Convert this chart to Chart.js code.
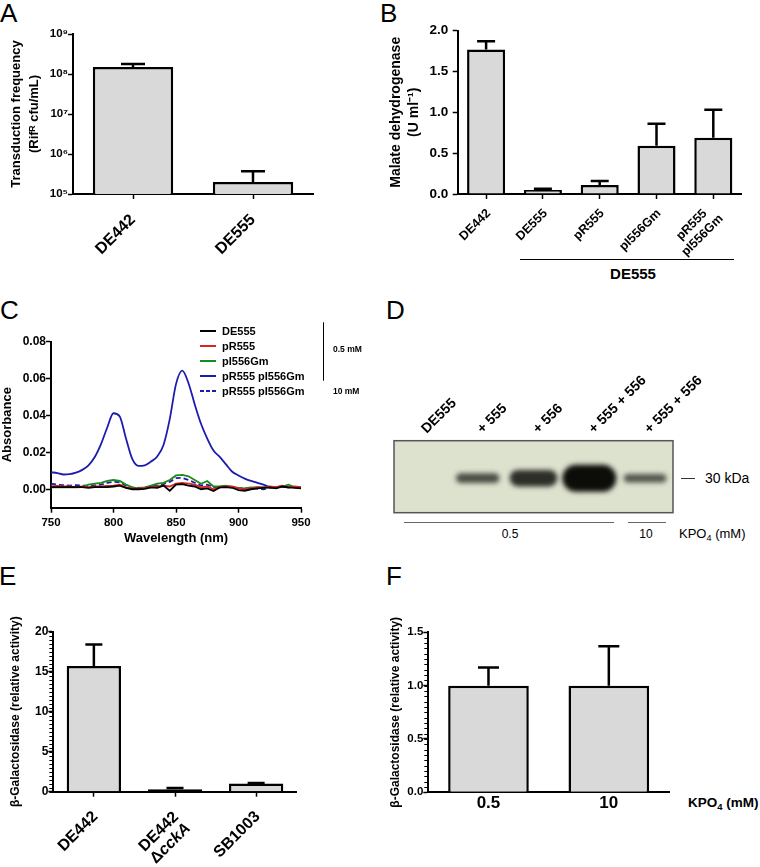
<!DOCTYPE html>
<html>
<head>
<meta charset="utf-8">
<script src="https://cdn.jsdelivr.net/npm/chart.js@4.4.1/dist/chart.umd.min.js"></script>
<style>
  body { margin: 0; background: #fff; }
  #page { position: relative; width: 760px; height: 867px; overflow: hidden; font-family: "Liberation Sans", Arial, sans-serif; color: #000; }
  canvas { position: absolute; }
  .t { position: absolute; white-space: nowrap; line-height: 1; }
  .letter { font-size: 26px; }
  .hl { position: absolute; height: 0; border-top: 1px solid #000; }
  .sub { font-size: 70%; position: relative; top: 0.3em; }
</style>
</head>
<body>
<div id="page">
  <div class="t letter" style="left:0;top:-0.5px">A</div>
  <div class="t letter" style="left:380px;top:-0.5px">B</div>
  <div class="t letter" style="left:0;top:296.5px">C</div>
  <div class="t letter" style="left:386px;top:296.5px">D</div>
  <div class="t letter" style="left:-1px;top:563px">E</div>
  <div class="t letter" style="left:386px;top:563px">F</div>

  <!-- B: strain bracket -->
  <div class="hl" style="left:520px;top:259px;width:214px"></div>
  <div class="t" style="left:633px;top:265.5px;font-size:15px;font-weight:bold;transform:translateX(-50%)">DE555</div>

  <!-- D: blot annotations -->
  <div class="hl" style="left:681px;top:478px;width:14px;border-color:#333"></div>
  <div class="t" style="left:705px;top:471px;font-size:14px">30 kDa</div>
  <div class="hl" style="left:404px;top:522px;width:210px;border-color:#666"></div>
  <div class="hl" style="left:628px;top:522px;width:38px;border-color:#666"></div>
  <div class="t" style="left:510px;top:528px;font-size:12px;transform:translateX(-50%)">0.5</div>
  <div class="t" style="left:646px;top:528px;font-size:12px;transform:translateX(-50%)">10</div>
  <div class="t" style="left:679px;top:527px;font-size:13px">KPO<span class="sub">4</span> (mM)</div>

  <!-- F: x axis unit -->
  <div class="t" style="left:688px;top:796px;font-size:13.5px;font-weight:bold">KPO<span class="sub">4</span> (mM)</div>
</div>

<script>
// ---- A: transduction frequency ----
const aStrains = ['DE442', 'DE555'];
const aFreq = [1.5e8, 2.0e5];
const aFreqErr = [0.28e8, 1.7e5];
const aTicks = [1e5, 1e6, 1e7, 1e8, 1e9];

// ---- B: malate dehydrogenase ----
const bStrains = ['DE442', 'DE555', 'pR555', 'pI556Gm', ['pR555', 'pI556Gm']];
const bMdh = [1.77, 0.05, 0.11, 0.59, 0.69];
const bMdhErr = [0.10, 0.015, 0.05, 0.27, 0.34];

// ---- C: absorption spectra ----
const cWavelength = [750, 755, 760, 765, 770, 775, 780, 785, 790, 795, 800, 805, 810, 815, 820, 825, 830, 835, 840, 845,
  850, 855, 860, 865, 870, 875, 880, 885, 890, 895, 900, 905, 910, 915, 920, 925, 930, 935, 940, 945, 950];
const cDE555 = [.0012, .0012, .0012, .0012, .0012, .0012, .0008, .0012, .0012, .0012, .0015, .0020, .0008, .0000, .0000, .0002, .0010, .0008, .0020, -.0008,
  .0025, .0028, .0020, .0015, .0000, .0005, -.0010, .0010, .0012, .0008, -.0005, -.0008, .0000, .0005, .0008, .0010, .0005, .0015, .0010, .0008, .0005];
const cPR555 = [.0015, .0018, .0015, .0015, .0012, .0015, .0012, .0015, .0015, .0018, .0020, .0025, .0010, .0005, .0003, .0008, .0012, .0015, .0020, .0015,
  .0030, .0035, .0030, .0025, .0010, .0015, .0000, .0010, .0015, .0015, .0005, .0000, .0005, .0012, .0008, .0015, .0012, .0020, .0012, .0015, .0012];
const cPI556Gm = [.0010, .0010, .0010, .0012, .0010, .0012, .0025, .0030, .0035, .0045, .0050, .0045, .0025, .0010, .0005, .0010, .0020, .0030, .0035, .0050,
  .0075, .0078, .0070, .0050, .0030, .0045, .0015, .0015, .0020, .0012, .0008, .0005, .0010, .0010, .0012, .0010, .0012, .0015, .0025, .0010, .0008];
const cBoth05 = [.0092, .0088, .0080, .0082, .0090, .0105, .0130, .0175, .0245, .0335, .0412, .0395, .0275, .0165, .0127, .0130, .0150, .0178, .0240, .0380,
  .0570, .0643, .0575, .0460, .0355, .0275, .0210, .0175, .0135, .0095, .0075, .0058, .0045, .0035, .0025, .0012, .0010, .0012, .0010, .0012, .0010];
const cBoth10 = [.0030, .0025, .0022, .0020, .0022, .0020, .0020, .0022, .0025, .0035, .0040, .0038, .0020, .0010, .0008, .0010, .0015, .0020, .0028, .0040,
  .0060, .0062, .0050, .0035, .0020, .0025, .0010, .0012, .0018, .0012, .0008, .0005, .0005, .0003, .0000, .0008, .0010, .0012, .0010, .0012, .0010];
const cTicks = [0, 0.02, 0.04, 0.06, 0.08];

// ---- D: western blot lanes ----
const dLanes = ['DE555', '+ 555', '+ 556', '+ 555 + 556', '+ 555 + 556'];
const dBandSignal = [0, 0.25, 0.55, 1.0, 0.2];

// ---- E: beta-galactosidase by strain (_x_ = italic) ----
const eStrains = ['DE442', ['DE442', '\u0394_cckA_'], 'SB1003'];
const eGal = [15.7, 0.3, 1.04];
const eGalErr = [2.7, 0.16, 0.06];

// ---- F: beta-galactosidase by KPO4 ----
const fKpo = ['0.5', '10'];
const fGal = [1.0, 1.0];
const fGalErr = [0.17, 0.37];

const SUP = ['\u2070', '\u00b9', '\u00b2', '\u00b3', '\u2074', '\u2075', '\u2076', '\u2077', '\u2078', '\u2079'];
const BAR_FILL = '#d9d9d9';
const FONT = '"Liberation Sans", Arial, Helvetica, sans-serif';

Chart.defaults.font.family = FONT;
Chart.defaults.font.weight = 'bold';
Chart.defaults.color = '#000';
Chart.defaults.animation = false;
Chart.defaults.plugins.legend.display = false;
Chart.defaults.plugins.tooltip.enabled = false;

function makeCanvas(x, y, w, h) {
  const c = document.createElement('canvas');
  c.width = w; c.height = h;
  c.style.left = x + 'px'; c.style.top = y + 'px';
  c.style.width = w + 'px'; c.style.height = h + 'px';
  document.getElementById('page').appendChild(c);
  return c;
}

const border = () => ({ display: true, color: '#000', width: 2 });
const grid = (len) => ({ display: true, drawOnChartArea: false, tickLength: len, tickColor: '#000', tickWidth: 1.5, offset: false });
const noGrid = () => ({ display: false, drawTicks: false });

// upward-only error bars with a cap, GraphPad style
const errorBars = {
  id: 'errorBars',
  afterDatasetsDraw(chart, args, opts) {
    const { ctx } = chart;
    const y = chart.scales.y;
    const meta = chart.getDatasetMeta(0);
    const vals = chart.data.datasets[0].data;
    ctx.save();
    ctx.strokeStyle = '#000';
    ctx.lineWidth = 2.5;
    meta.data.forEach((bar, i) => {
      const top = y.getPixelForValue(vals[i] + opts.errors[i]);
      ctx.beginPath();
      ctx.moveTo(bar.x, bar.y);
      ctx.lineTo(bar.x, top);
      ctx.moveTo(bar.x - opts.cap / 2, top);
      ctx.lineTo(bar.x + opts.cap / 2, top);
      ctx.stroke();
    });
    ctx.restore();
  }
};

// short minor ticks on the y axis
const minorTicks = {
  id: 'minorTicks',
  afterDraw(chart, args, opts) {
    if (!opts.step) return;
    const { ctx } = chart;
    const y = chart.scales.y;
    const x0 = chart.chartArea.left - 1;
    ctx.save();
    ctx.strokeStyle = '#000';
    ctx.lineWidth = 1;
    const n = Math.round((y.max - y.min) / opts.step);
    for (let k = 0; k <= n; k++) {
      const py = Math.round(y.getPixelForValue(y.min + k * opts.step)) + 0.5;
      ctx.beginPath();
      ctx.moveTo(x0, py);
      ctx.lineTo(x0 - opts.len, py);
      ctx.stroke();
    }
    ctx.restore();
  }
};

// text with _italic_ pieces
function pieces(txt) {
  return txt.split('_').map((s, j) => ({ s, it: j % 2 === 1 })).filter(p => p.s);
}
function setFont(ctx, size, weight, it) {
  ctx.font = (it ? 'italic ' : '') + weight + ' ' + size + 'px ' + FONT;
}
function richWidth(ctx, txt, size, weight) {
  return pieces(txt).reduce((w, p) => { setFont(ctx, size, weight, p.it); return w + ctx.measureText(p.s).width; }, 0);
}
function richDraw(ctx, txt, x, y, size, weight) {
  pieces(txt).forEach(p => {
    setFont(ctx, size, weight, p.it);
    ctx.fillText(p.s, x, y);
    x += ctx.measureText(p.s).width;
  });
}

// 45-degree category labels; multi-line labels are centre-aligned blocks
const slantLabels = {
  id: 'slantLabels',
  afterDraw(chart, args, o) {
    const { ctx } = chart;
    const xs = chart.scales.x;
    const up = !!o.up;
    const weight = o.weight || 'bold';
    ctx.save();
    ctx.fillStyle = '#000';
    ctx.textBaseline = 'middle';
    ctx.textAlign = 'left';
    chart.data.labels.forEach((lab, i) => {
      const lines = Array.isArray(lab) ? lab : [lab];
      const widths = lines.map(t => richWidth(ctx, t, o.size, weight));
      const maxW = Math.max(...widths);
      lines.forEach((txt, k) => {
        const perp = (k - (lines.length - 1) * (o.center || 0) / 2) * o.lineHeight;
        const ax = xs.getPixelForTick(i) + o.dx;
        const ay = (up ? chart.chartArea.top : chart.chartArea.bottom) + o.dy;
        ctx.save();
        ctx.translate(ax, ay);
        ctx.rotate(-Math.PI / 4);
        const x0 = up ? 0 : -maxW + (maxW - widths[k]) / 2;
        richDraw(ctx, txt, x0, perp, o.size, weight);
        ctx.restore();
      });
    });
    ctx.restore();
  }
};

// very short bars get a full outline so they read as solid black
function barDataset(values) {
  return {
    data: values, backgroundColor: BAR_FILL, borderColor: '#000', borderWidth: 2.5,
    borderSkipped: c => (c.chart.scales.y.getPixelForValue(0) - c.chart.scales.y.getPixelForValue(c.raw) < 4 ? false : 'start'),
    barPercentage: 0.67, categoryPercentage: 1
  };
}
const hiddenTicks = { display: false, autoSkip: false };

// A
new Chart(makeCanvas(0, 22, 380, 268), {
  type: 'bar',
  data: { labels: aStrains, datasets: [barDataset(aFreq)] },
  options: {
    responsive: false,
    layout: { padding: { top: 12, right: 67, left: 0, bottom: 0 } },
    plugins: {
      errorBars: { errors: aFreqErr, cap: 24 },
      slantLabels: { size: 16, dx: 0, dy: 23.3, lineHeight: 17 }
    },
    scales: {
      x: { grid: grid(5), border: border(), ticks: hiddenTicks, afterFit: s => { s.height = 96; } },
      y: {
        type: 'logarithmic', min: 1e5, max: 1e9,
        grid: grid(5), border: border(),
        afterBuildTicks: s => { s.ticks = aTicks.map(v => ({ value: v })); },
        ticks: { autoSkip: false, padding: 0, font: { size: 11.5 }, callback: v => '10' + SUP[Math.round(Math.log10(v))] },
        title: { display: true, text: ['Transduction frequency', '(Rif\u1d3f cfu/mL)'], font: { size: 13, lineHeight: 1.4 }, padding: { top: 7, bottom: 0 } },
        afterFit: s => { s.width = 73; }
      }
    }
  },
  plugins: [errorBars, slantLabels]
});

// B
new Chart(makeCanvas(380, 18, 380, 244), {
  type: 'bar',
  data: { labels: bStrains, datasets: [barDataset(bMdh)] },
  options: {
    responsive: false,
    layout: { padding: { top: 11.3, right: 18.3, left: 0, bottom: 0 } },
    plugins: {
      errorBars: { errors: bMdhErr, cap: 18 },
      slantLabels: { size: 12.5, dx: 2.5, dy: 17.5, lineHeight: 15, center: 1 }
    },
    scales: {
      x: { grid: grid(5), border: border(), ticks: hiddenTicks, afterFit: s => { s.height = 68; } },
      y: {
        min: 0, max: 2,
        grid: grid(5), border: border(),
        ticks: { stepSize: 0.5, padding: 4.5, font: { size: 13.5 }, callback: v => v.toFixed(1) },
        title: { display: true, text: ['Malate dehydrogenase', '(U ml\u207b\u00b9)'], font: { size: 14, lineHeight: 1.3 }, padding: { top: 7, bottom: 0 } },
        afterFit: s => { s.width = 77.7; }
      }
    }
  },
  plugins: [errorBars, slantLabels]
});

// C legend with the concentration bracket
const cLegend = {
  id: 'cLegend',
  afterDraw(chart) {
    const { ctx } = chart;
    ctx.save();
    chart.data.datasets.forEach((ds, i) => {
      const y = 31 + i * 15;
      ctx.strokeStyle = ds.borderColor;
      ctx.lineWidth = 2;
      ctx.setLineDash(ds.borderDash ? [4, 2] : []);
      ctx.beginPath();
      ctx.moveTo(200, y);
      ctx.lineTo(216, y);
      ctx.stroke();
      ctx.setLineDash([]);
      ctx.fillStyle = '#000';
      ctx.font = 'bold 11px ' + FONT;
      ctx.textBaseline = 'middle';
      ctx.fillText(ds.label, 222, y + 0.5);
    });
    ctx.strokeStyle = '#000';
    ctx.lineWidth = 1;
    ctx.beginPath();
    ctx.moveTo(323.5, 22.3);
    ctx.lineTo(323.5, 80.7);
    ctx.stroke();
    ctx.font = 'bold 8.5px ' + FONT;
    ctx.fillText('0.5 mM', 333, 50);
    ctx.fillText('10 mM', 333, 91.7);
    ctx.restore();
  }
};

function spectrum(label, values, color, dashed, smooth) {
  return {
    label,
    data: values.map((v, i) => ({ x: cWavelength[i], y: v })),
    borderColor: color, borderWidth: 1.8, pointRadius: 0, fill: false,
    borderDash: dashed ? [5, 3] : undefined,
    cubicInterpolationMode: smooth ? 'monotone' : 'default', tension: smooth ? 0.4 : 0
  };
}

new Chart(makeCanvas(0, 300, 380, 262), {
  type: 'line',
  data: {
    datasets: [
      spectrum('DE555', cDE555, '#000000', false, false),
      spectrum('pR555', cPR555, '#dd2222', false, false),
      spectrum('pI556Gm', cPI556Gm, '#1a8a1a', false, false),
      spectrum('pR555 pI556Gm', cBoth05, '#1c1cae', false, true),
      spectrum('pR555 pI556Gm', cBoth10, '#1c1cae', true, false)
    ]
  },
  options: {
    responsive: false,
    layout: { padding: { top: 41.7, right: 79, left: 0, bottom: 0 } },
    scales: {
      x: {
        type: 'linear', min: 750, max: 950,
        grid: grid(5), border: border(),
        ticks: { stepSize: 50, padding: 3, font: { size: 11.5 } },
        title: { display: true, text: 'Wavelength (nm)', font: { size: 13, lineHeight: 1.2 }, padding: { top: 0, bottom: 16 } },
        afterFit: s => { s.height = 54.3; }
      },
      y: {
        min: -0.01, max: 0.08,
        grid: grid(5), border: border(),
        afterBuildTicks: s => { s.ticks = cTicks.map(v => ({ value: v })); },
        ticks: { padding: 0, font: { size: 12 }, callback: v => v.toFixed(2) },
        title: { display: true, text: 'Absorbance', font: { size: 13, lineHeight: 1.2 }, padding: { top: 0, bottom: 0 } },
        afterFit: s => { s.width = 51; }
      }
    }
  },
  plugins: [cLegend]
});

// D blot: lanes on a category scale, band darkness/size from signal
const blot = {
  id: 'blot',
  beforeDatasetsDraw(chart) {
    const { ctx, chartArea: a } = chart;
    const meta = chart.getDatasetMeta(0);
    const sig = chart.data.datasets[0].data;
    const cy = (a.top + a.bottom) / 2 + 1.5;
    ctx.save();
    ctx.fillStyle = '#dde2cf';
    ctx.fillRect(a.left, a.top, a.width, a.height);
    meta.data.forEach((el, i) => {
      const s = sig[i];
      if (!s) return;
      const w = 40 + 14 * s, h = 4 + 23 * s;
      ctx.filter = 'blur(2.5px)';
      ctx.fillStyle = 'rgba(12,12,8,' + (0.4 + 0.6 * Math.sqrt(s)) + ')';
      ctx.beginPath();
      ctx.roundRect(el.x - w / 2, cy - h / 2, w, h, h / 2);
      ctx.fill();
    });
    ctx.filter = 'none';
    ctx.strokeStyle = '#555';
    ctx.lineWidth = 1.5;
    ctx.strokeRect(a.left, a.top, a.width, a.height);
    ctx.restore();
  }
};

new Chart(makeCanvas(388, 330, 372, 200), {
  type: 'bar',
  data: { labels: dLanes, datasets: [{ data: dBandSignal, backgroundColor: 'rgba(0,0,0,0)', borderWidth: 0 }] },
  options: {
    responsive: false,
    layout: { padding: { top: 0, right: 87, left: 6, bottom: 17.3 } },
    plugins: { slantLabels: { up: true, size: 14, dx: 2, dy: -9.5, lineHeight: 16 } },
    scales: {
      x: { position: 'top', grid: noGrid(), border: { display: false }, ticks: hiddenTicks, afterFit: s => { s.height = 110.7; } },
      y: { display: false, min: 0, max: 1 }
    }
  },
  plugins: [blot, slantLabels]
});

// E
new Chart(makeCanvas(0, 600, 380, 267), {
  type: 'bar',
  data: { labels: eStrains, datasets: [barDataset(eGal)] },
  options: {
    responsive: false,
    layout: { padding: { top: 31.7, right: 83.3, left: 0, bottom: 0 } },
    plugins: {
      errorBars: { errors: eGalErr, cap: 17 },
      minorTicks: { step: 0.5, len: 3 },
      slantLabels: { size: 16, dx: 1.5, dy: 22.5, lineHeight: 16.5, center: 0 }
    },
    scales: {
      x: { grid: grid(5), border: border(), ticks: hiddenTicks, afterFit: s => { s.height = 75.3; } },
      y: {
        min: 0, max: 20,
        grid: grid(5), border: border(),
        ticks: { stepSize: 5, padding: 0, font: { size: 12 } },
        title: { display: true, text: '\u03b2-Galactosidase (relative activity)', font: { size: 12, lineHeight: 1.2 }, padding: { top: 8, bottom: 0 } },
        afterFit: s => { s.width = 53.3; }
      }
    }
  },
  plugins: [errorBars, minorTicks, slantLabels]
});

// F
new Chart(makeCanvas(380, 600, 380, 267), {
  type: 'bar',
  data: { labels: fKpo, datasets: [barDataset(fGal)] },
  options: {
    responsive: false,
    layout: { padding: { top: 32.3, right: 91, left: 0, bottom: 0 } },
    plugins: { errorBars: { errors: fGalErr, cap: 21 }, minorTicks: { step: 0.05, len: 3 } },
    scales: {
      x: {
        grid: noGrid(), border: border(),
        ticks: { autoSkip: false, maxRotation: 0, padding: 1, font: { size: 17 } },
        afterFit: s => { s.height = 74.7; }
      },
      y: {
        min: 0, max: 1.5,
        grid: grid(5), border: border(),
        ticks: { stepSize: 0.5, padding: 0, font: { size: 11.5 }, callback: v => v.toFixed(1) },
        title: { display: true, text: '\u03b2-Galactosidase (relative activity)', font: { size: 12, lineHeight: 1.2 }, padding: { top: 8, bottom: 0 } },
        afterFit: s => { s.width = 48.3; }
      }
    }
  },
  plugins: [errorBars, minorTicks]
});
</script>
</body>
</html>
